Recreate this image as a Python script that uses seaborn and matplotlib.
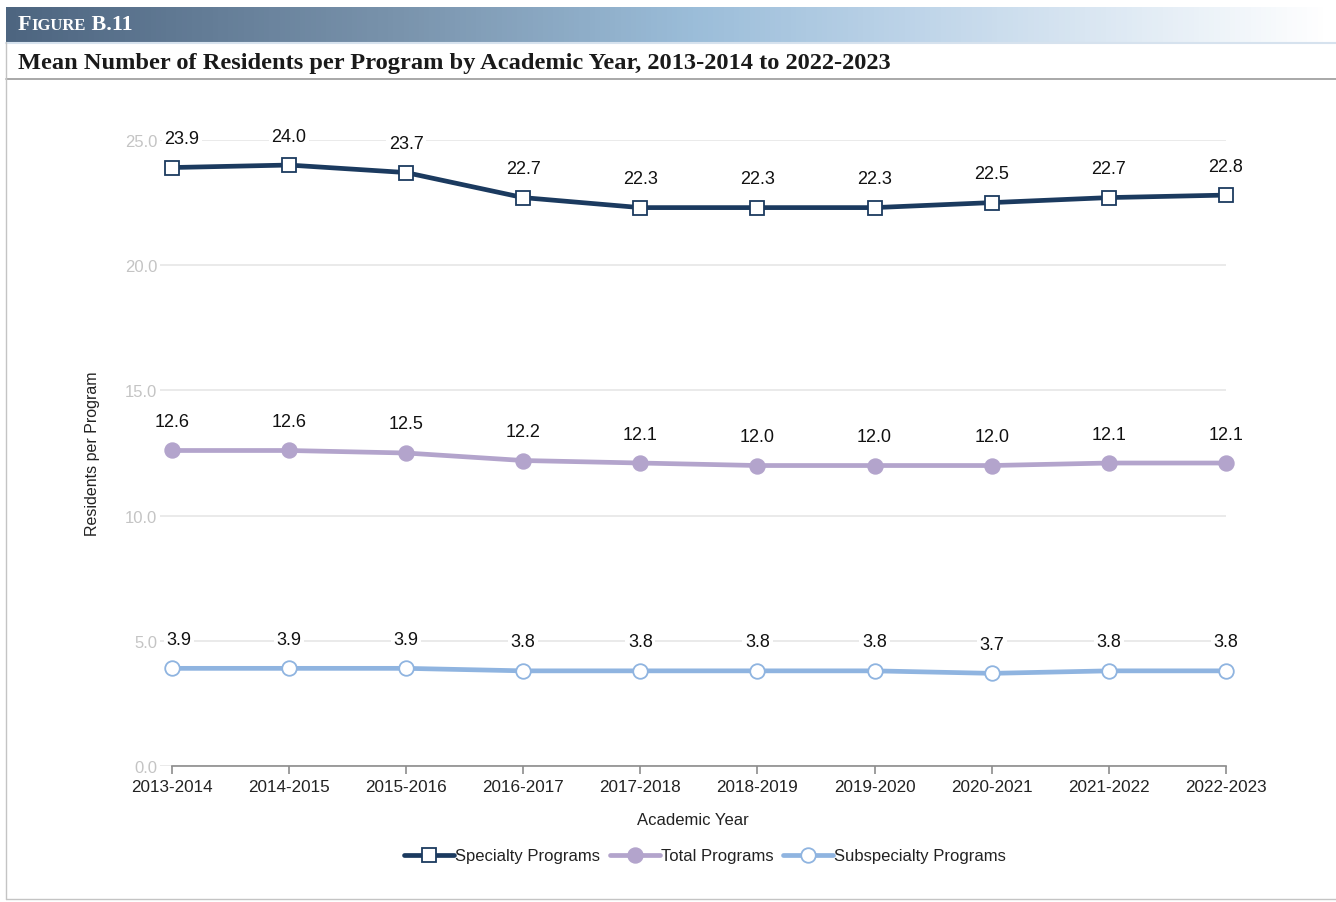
import seaborn as sns
import matplotlib.pyplot as plt
import pandas as pd
import numpy as np
from matplotlib.colors import LinearSegmentedColormap
from matplotlib.lines import Line2D
from matplotlib.offsetbox import TextArea, HPacker, AnchoredOffsetbox

sns.set_theme(style="white")
plt.rcParams['font.family'] = ['Liberation Sans', 'DejaVu Sans']

# datos
years = ["2013-2014", "2014-2015", "2015-2016", "2016-2017", "2017-2018",
         "2018-2019", "2019-2020", "2020-2021", "2021-2022", "2022-2023"]
specialty = [23.9, 24.0, 23.7, 22.7, 22.3, 22.3, 22.3, 22.5, 22.7, 22.8]
total = [12.6, 12.6, 12.5, 12.2, 12.1, 12.0, 12.0, 12.0, 12.1, 12.1]
subspecialty = [3.9, 3.9, 3.9, 3.8, 3.8, 3.8, 3.8, 3.7, 3.8, 3.8]
yticks = [0.0, 5.0, 10.0, 15.0, 20.0, 25.0]

# nombre, valores, color, marcador, relleno, tamaño, desplazamiento de la 1a etiqueta
series = [
    ("Specialty Programs", specialty, "#1b3a5f", "s", "white", 9.5, 10),
    ("Total Programs", total, "#b3a4cc", "o", "#b3a4cc", 10.5, 0),
    ("Subspecialty Programs", subspecialty, "#8fb4e0", "o", "white", 10.5, 7),
]

W, H = 1336, 903
fig = plt.figure(figsize=(W / 100, H / 100), dpi=100)

# banda de cabecera con degradado
band = fig.add_axes([6 / W, 1 - 43 / H, 1322 / W, 35 / H])
cmap = LinearSegmentedColormap.from_list(
    "hdr", [(0, "#4d6580"), (0.3, "#7a94ad"), (0.52, "#9bbdd9"),
            (0.68, "#bcd3e8"), (1, "#ffffff")])
band.imshow(np.linspace(0, 1, 256)[None, :], aspect="auto", cmap=cmap, extent=[0, 1, 0, 1])
band.set_axis_off()

# FIGURE B.11 en versalitas
parts = [("F", 15.8), ("IGURE", 12), (" B.11", 15.8)]
boxes = [TextArea(t, textprops=dict(color="white", fontsize=s, fontweight="bold",
                                    family="Liberation Serif")) for t, s in parts]
pack = HPacker(children=boxes, align="baseline", pad=0, sep=0)
ab = AnchoredOffsetbox(loc="center left", child=pack, frameon=False,
                       bbox_to_anchor=(18 / W, 1 - 25 / H), bbox_transform=fig.transFigure,
                       borderpad=0, pad=0)
fig.add_artist(ab)

fig.text(18 / W, 1 - 63 / H,
         "Mean Number of Residents per Program by Academic Year, 2013-2014 to 2022-2023",
         family="Liberation Serif", fontweight="bold", fontsize=17.6, color="#1a1a1a",
         va="center", ha="left")

# marco
fig.add_artist(Line2D([6 / W, 1], [1 - 43.5 / H] * 2, color="#d6e2ee", lw=1.5))
fig.add_artist(Line2D([6 / W, 1], [1 - 80 / H] * 2, color="#9a9a9a", lw=1.2))
fig.add_artist(Line2D([6 / W, 6 / W], [1 - 900 / H, 1 - 43 / H], color="#c4c4c4", lw=1))
fig.add_artist(Line2D([6 / W, 1], [1 - 900 / H] * 2, color="#c4c4c4", lw=1))

ax = fig.add_axes([160 / W, 1 - 767 / H, (1226 - 160) / W, (767 - 141) / H])

for name, vals, col, mk, fc, ms, dx0 in series:
    df = pd.DataFrame({"year": years, "value": vals})
    sns.lineplot(data=df, x="year", y="value", ax=ax, color=col, lw=3.4, marker=mk,
                 markersize=ms, markerfacecolor=fc, markeredgecolor=col,
                 markeredgewidth=1.3, label=name, zorder=3, clip_on=False)
    for i, v in enumerate(vals):
        dx = dx0 if i == 0 else 0
        ax.annotate(f"{v:.1f}", (i, v), xytext=(dx, 29), textcoords="offset pixels",
                    ha="center", va="center", fontsize=13, color="#111111", zorder=4,
                    bbox=dict(boxstyle="square,pad=0.15", fc="white", ec="none"))

ax.set_ylim(0, 25)
ax.set_xlim(-0.1, 9)
ax.set_yticks(yticks)
ax.set_yticklabels([f"{t:.1f}" for t in yticks], color="#c4c4c4", fontsize=12)
ax.yaxis.grid(True, color="#e6e6e6", lw=1.2, zorder=0)
ax.tick_params(axis="y", length=0, pad=2)
ax.tick_params(axis="x", length=6, width=1.2, color="#8c8c8c", labelsize=12.3,
               labelcolor="#222222", pad=3, bottom=True)
for s in ["top", "right", "left"]:
    ax.spines[s].set_visible(False)
ax.spines["bottom"].set_color("#8c8c8c")
ax.spines["bottom"].set_linewidth(1.2)
ax.spines["bottom"].set_bounds(0, 9)
ax.set_xlabel("Academic Year", fontsize=12, color="#222222", labelpad=13)
ax.set_ylabel("Residents per Program", fontsize=11.5, color="#222222", labelpad=18)

leg = ax.legend(loc="center", bbox_to_anchor=(705 / W, 1 - 857 / H),
                bbox_transform=fig.transFigure, ncol=3, frameon=False, fontsize=12,
                handlelength=3.0, handletextpad=0.05, columnspacing=0.6)
for t in leg.get_texts():
    t.set_color("#222222")

fig.savefig("out.png", dpi=100)
